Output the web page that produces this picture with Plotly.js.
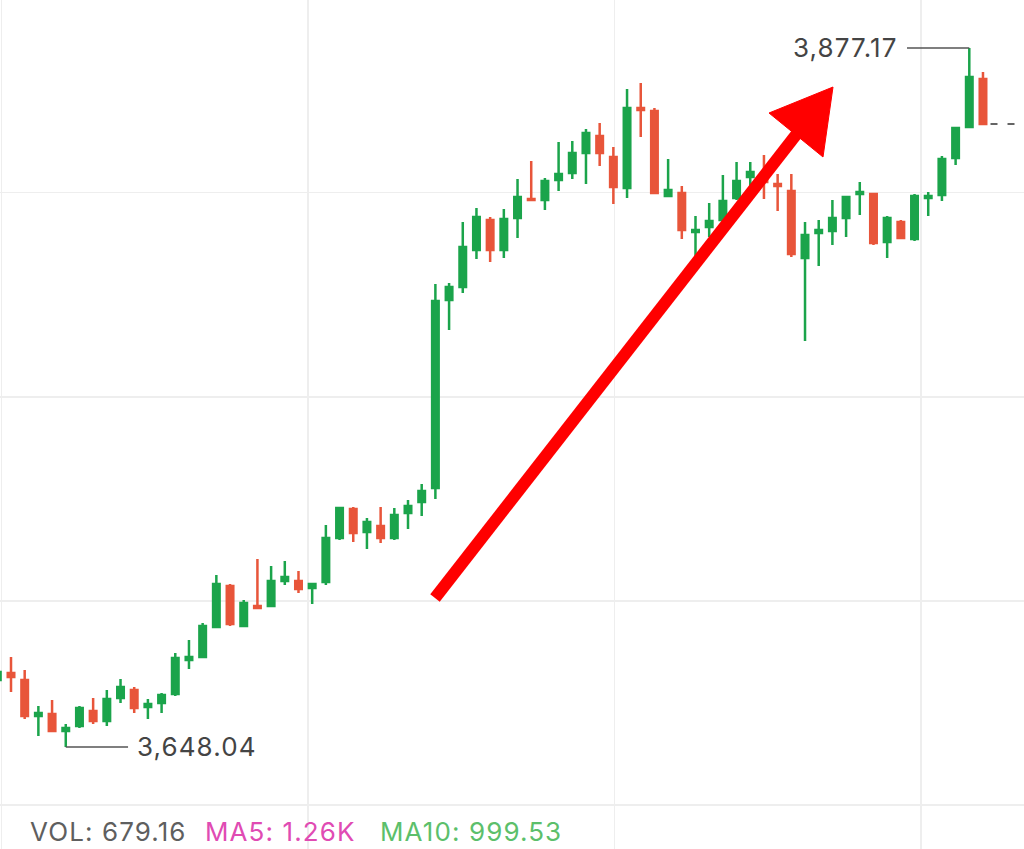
<!DOCTYPE html>
<html><head><meta charset="utf-8">
<script src="https://cdn.plot.ly/plotly-3.0.1.min.js"></script>
<style>html,body{margin:0;padding:0;background:#fff;overflow:hidden} #chart{width:1024px;height:849px;}</style>
</head><body><div id="chart"></div>
<script>
// ---- data ----
const openP = [
3670.00,3672.29,3670.00,3658.19,3658.85,3653.28,3654.92,3659.83,3656.56,3664.10,
3666.72,3661.15,3662.46,3665.41,3676.55,3677.54,3687.37,3700.81,3687.70,3694.25,
3694.25,3702.45,3702.45,3700.15,3702.12,3716.54,3726.05,3718.51,3720.48,3716.54,
3724.74,3728.34,3732.93,3794.56,3798.82,3810.95,3820.78,3810.95,3821.44,3827.67,
3827.34,3833.90,3836.19,3842.75,3848.32,3841.44,3831.27,3857.50,3856.51,3828.65,
3829.63,3816.85,3818.49,3820.78,3828.00,3834.88,3834.55,3832.58,3830.29,3808.33,
3816.52,3817.18,3821.44,3829.31,3829.31,3813.57,3820.13,3814.56,3828.00,3828.98,
3841.11,3851.27,3867.00];
const highP = [
3674.59,3677.54,3673.27,3661.47,3663.44,3655.57,3661.47,3664.10,3666.72,3670.32,
3667.70,3663.77,3665.73,3678.85,3683.11,3688.68,3704.41,3701.46,3696.22,3709.66,
3707.37,3709.00,3705.73,3701.46,3720.80,3726.71,3726.71,3723.10,3726.71,3726.38,
3729.00,3734.24,3799.80,3800.13,3820.13,3824.72,3821.77,3824.39,3834.22,3840.12,
3834.55,3846.35,3846.68,3850.61,3852.58,3844.71,3863.73,3865.69,3857.50,3840.78,
3831.93,3822.10,3826.36,3835.53,3839.80,3839.80,3842.09,3835.86,3835.86,3820.13,
3820.78,3827.34,3828.32,3833.24,3829.63,3822.10,3820.78,3829.31,3829.96,3841.76,
3851.27,3877.17,3869.30];
const lowP = [
3666.72,3666.06,3657.21,3651.64,3653.28,3648.04,3654.26,3655.57,3654.92,3662.46,
3659.18,3657.21,3659.18,3664.75,3673.60,3677.54,3687.04,3687.70,3687.37,3693.60,
3694.25,3701.14,3698.51,3694.91,3701.14,3715.89,3715.23,3712.94,3714.90,3715.89,
3719.49,3723.76,3729.33,3784.73,3796.85,3808.00,3807.02,3808.33,3814.88,3827.34,
3824.06,3830.29,3834.22,3832.58,3838.49,3826.03,3828.00,3847.99,3829.31,3828.32,
3814.56,3808.66,3815.21,3819.14,3827.34,3830.62,3827.67,3823.73,3808.66,3781.12,
3805.71,3812.59,3815.21,3822.42,3812.59,3808.33,3814.56,3813.90,3822.10,3827.01,
3838.81,3851.27,3852.25];
const closeP = [
3672.62,3670.98,3658.19,3659.18,3653.28,3654.26,3660.82,3656.56,3663.77,3667.70,
3660.82,3662.13,3665.08,3677.21,3677.54,3687.70,3701.46,3688.35,3695.24,3693.60,
3702.45,3703.76,3699.83,3701.46,3716.54,3726.38,3718.18,3721.79,3716.54,3724.08,
3727.03,3731.95,3794.23,3798.82,3811.93,3821.77,3810.95,3821.11,3828.32,3827.34,
3833.57,3835.86,3842.75,3849.30,3842.75,3831.60,3857.50,3856.84,3829.63,3830.62,
3817.51,3817.51,3820.46,3827.01,3833.57,3836.52,3833.24,3831.93,3809.64,3815.87,
3817.51,3821.44,3828.32,3829.96,3813.24,3821.44,3814.88,3828.65,3828.65,3840.78,
3850.94,3867.66,3852.25];
const volLabel = "VOL: 679.16";
const ma5Label = "MA5: 1.26K";
const ma10Label = "MA10: 999.53";

// ---- derived ----
const idx = openP.map((_, i) => i);
const maxHigh = Math.max(...highP), maxIdx = highP.indexOf(maxHigh);
const minLow = Math.min(...lowP), minIdx = lowP.indexOf(minLow);
const lastIdx = closeP.length - 1, lastClose = closeP[lastIdx];
const fmt = v => v.toLocaleString('en-US', {minimumFractionDigits: 2, maximumFractionDigits: 2});
const spaced = t => `<span style="letter-spacing:1.1px">${t}</span>`;

const W = 1024, H = 849;
const px = (x, y) => [x / W, 1 - y / H];
const GREEN = '#1ba44b', RED = '#e8553a';
const FONT = 'Inter, "Noto Sans", sans-serif';

const trace = {
  type: 'candlestick', x: idx, open: openP, high: highP, low: lowP, close: closeP,
  increasing: {line: {color: GREEN, width: 2.5}, fillcolor: GREEN},
  decreasing: {line: {color: RED, width: 2.5}, fillcolor: RED},
  whiskerwidth: 0, hoverinfo: 'skip', showlegend: false
};

// arrow (decoration) in pixel space
const a0 = px(435, 598), a1 = px(806, 122);
const h1 = px(833, 87), h2 = px(769, 113), h3 = px(823, 157);

const layout = {
  width: W, height: H,
  margin: {l: 0, r: 0, t: 0, b: 0, pad: 0},
  paper_bgcolor: '#ffffff', plot_bgcolor: '#ffffff',
  showlegend: false, boxgap: 0.32,
  xaxis: {range: [0.1965, 74.996], tickmode: 'linear', tick0: 0.30, dtick: 22.39,
          showticklabels: false, showgrid: true, gridcolor: '#eeeeee', gridwidth: 1.5,
          zeroline: false, showline: false, ticks: '', rangeslider: {visible: false}, fixedrange: true},
  yaxis: {range: [3614.60, 3892.90], tickmode: 'linear', tick0: 3629.02, dtick: 66.9,
          showticklabels: false, showgrid: true, gridcolor: '#eeeeee', gridwidth: 1.5,
          zeroline: false, showline: false, ticks: '', fixedrange: true},
  shapes: [
    {type: 'line', xref: 'x', yref: 'y', x0: maxIdx - 4.55, x1: maxIdx, y0: maxHigh, y1: maxHigh,
     line: {color: '#555555', width: 1.5}},
    {type: 'line', xref: 'x', yref: 'y', x0: minIdx, x1: minIdx + 4.55, y0: minLow, y1: minLow,
     line: {color: '#555555', width: 1.5}},
    {type: 'line', xref: 'x', yref: 'y', x0: lastIdx + 0.55, x1: 75, y0: lastClose, y1: lastClose,
     line: {color: '#333333', width: 1.5, dash: '7px,10px'}},
    {type: 'line', xref: 'paper', yref: 'paper', x0: a0[0], y0: a0[1], x1: a1[0], y1: a1[1],
     line: {color: '#ff0000', width: 12}},
    {type: 'path', xref: 'paper', yref: 'paper',
     path: `M ${h1[0]} ${h1[1]} L ${h2[0]} ${h2[1]} L ${h3[0]} ${h3[1]} Z`,
     fillcolor: '#ff0000', line: {color: '#ff0000', width: 1}}
  ],
  annotations: [
    {xref: 'x', yref: 'y', x: maxIdx - 5.05, y: maxHigh, xanchor: 'right', yanchor: 'middle',
     text: spaced(fmt(maxHigh)), showarrow: false, font: {family: FONT, size: 26, color: '#444444'}},
    {xref: 'x', yref: 'y', x: minIdx + 5.05, y: minLow, xanchor: 'left', yanchor: 'middle',
     text: spaced(fmt(minLow)), showarrow: false, font: {family: FONT, size: 26, color: '#444444'}},
    {xref: 'paper', yref: 'paper', x: 28 / W, y: 1 - 831 / H, xanchor: 'left', yanchor: 'middle',
     text: spaced(volLabel), showarrow: false, font: {family: FONT, size: 26, color: '#5f5f5f'}},
    {xref: 'paper', yref: 'paper', x: 203 / W, y: 1 - 831 / H, xanchor: 'left', yanchor: 'middle',
     text: spaced(ma5Label), showarrow: false, font: {family: FONT, size: 26, color: '#e04bb3'}},
    {xref: 'paper', yref: 'paper', x: 378 / W, y: 1 - 831 / H, xanchor: 'left', yanchor: 'middle',
     text: spaced(ma10Label), showarrow: false, font: {family: FONT, size: 26, color: '#5cbf6b'}}
  ]
};

Plotly.newPlot('chart', [trace], layout, {displayModeBar: false, staticPlot: true});
</script>
</body></html>
